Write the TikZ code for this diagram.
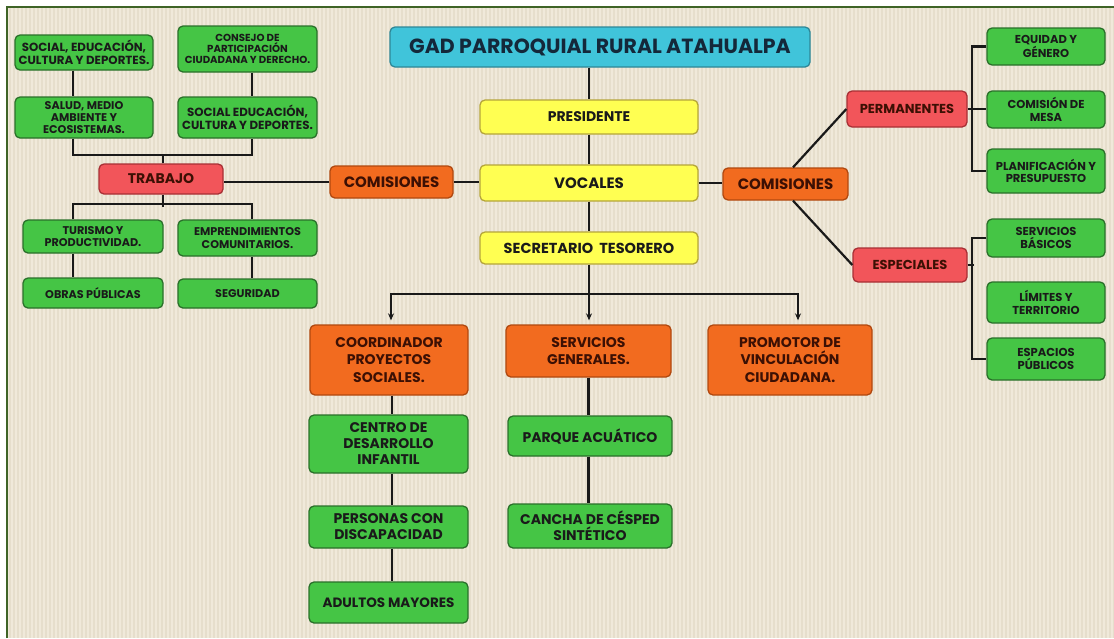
\documentclass[tikz,border=0pt]{standalone}
\usepackage{fontspec}
\setmainfont{Poppins}
\usetikzlibrary{arrows.meta,calc}
\definecolor{bg}{HTML}{F0E9DA}
\definecolor{stripe}{HTML}{DED4C0}
\definecolor{framec}{HTML}{3F6426}
\definecolor{cyanbox}{HTML}{40C4DA}
\definecolor{cyanline}{HTML}{2E8797}
\definecolor{yel}{HTML}{FFFF52}
\definecolor{yelline}{HTML}{B5A53A}
\definecolor{ora}{HTML}{F26B1F}
\definecolor{oraline}{HTML}{B0480F}
\definecolor{redb}{HTML}{F2555A}
\definecolor{redline}{HTML}{A83035}
\definecolor{grn}{HTML}{45C545}
\definecolor{grnline}{HTML}{2A702A}
\definecolor{txt}{HTML}{1A1A1A}
\definecolor{txtora}{HTML}{3C1004}
\definecolor{titletxt}{HTML}{14283A}
\newcommand\fsz[2]{\fontsize{#1}{#2}\selectfont}
\begin{document}
\begin{tikzpicture}[x=1pt,y=-1pt,
  box/.style={rounded corners=5pt, line width=1.3pt, align=center, inner sep=0pt, text=txt, font=\bfseries},
  gbox/.style={box, fill=grn, draw=grnline},
  ybox/.style={box, fill=yel, draw=yelline},
  obox/.style={box, fill=ora, draw=oraline, text=txtora},
  rbox/.style={box, fill=redb, draw=redline, text=txtora},
  cbox/.style={box, fill=cyanbox, draw=cyanline, text=titletxt},
  conn/.style={line width=2.2pt, draw=black!90},
  arr/.style={conn, -{Stealth[length=7pt,width=6pt]}, shorten >=4pt}]
\useasboundingbox (0,0) rectangle (1114,638);
% background
\fill[white] (0,0) rectangle (1114,638);
\fill[bg] (7,7) rectangle (1114,638);
\foreach \i in {9,13,...,1113} \fill[stripe, opacity=0.5] (\i,7) rectangle (\i+1.6,638);
\draw[framec, line width=2.2pt] (7,638) -- (7,7) -- (1114,7);

% centre column
\node[cbox, minimum width=420pt, minimum height=40pt, font=\bfseries\fsz{20.5}{24}] (title) at (600,47) {GAD PARROQUIAL RURAL ATAHUALPA};
\node[ybox, minimum width=218pt, minimum height=34pt, font=\bfseries\fsz{14}{16}] (pres) at (589,117) {PRESIDENTE};
\node[ybox, minimum width=218pt, minimum height=36pt, font=\bfseries\fsz{15}{17}] (voc) at (589,183) {VOCALES};
\node[ybox, minimum width=218pt, minimum height=32pt, font=\bfseries\fsz{14.5}{16}] (sec) at (589,248) {SECRETARIO\ \ TESORERO};
\node[obox, minimum width=123pt, minimum height=32pt, font=\bfseries\fsz{15}{17}] (comL) at (391.5,182) {COMISIONES};
\node[obox, minimum width=125pt, minimum height=32pt, font=\bfseries\fsz{15}{17}] (comR) at (785.5,184) {COMISIONES};

% left side
\node[rbox, minimum width=124pt, minimum height=30pt, font=\bfseries\fsz{14}{16}] (trab) at (161,179) {TRABAJO};
\node[gbox, minimum width=138pt, minimum height=35pt, font=\bfseries\fsz{11.8}{12.8}] (sc1) at (84,52.5) {SOCIAL, EDUCACIÓN,\\CULTURA Y DEPORTES.};
\node[gbox, minimum width=139pt, minimum height=46pt, font=\bfseries\fsz{10.2}{11}] (cons) at (247.5,49) {CONSEJO DE\\PARTICIPACIÓN\\CIUDADANA Y DERECHO.};
\node[gbox, minimum width=138pt, minimum height=41pt, font=\bfseries\fsz{11.2}{12.3}] (salud) at (84,117.5) {SALUD, MEDIO\\AMBIENTE Y\\ECOSISTEMAS.};
\node[gbox, minimum width=139pt, minimum height=41pt, font=\bfseries\fsz{11.8}{13}] (sc2) at (247.5,117.5) {SOCIAL EDUCACIÓN,\\CULTURA Y DEPORTES.};
\node[gbox, minimum width=140pt, minimum height=33pt, font=\bfseries\fsz{11.2}{12}] (tur) at (93,236.5) {TURISMO Y\\PRODUCTIVIDAD.};
\node[gbox, minimum width=139pt, minimum height=36pt, font=\bfseries\fsz{11.2}{12.5}] (emp) at (247.5,238) {EMPRENDIMIENTOS\\COMUNITARIOS.};
\node[gbox, minimum width=140pt, minimum height=30pt, font=\bfseries\fsz{11.2}{12}] (obras) at (93,293) {OBRAS PÚBLICAS};
\node[gbox, minimum width=139pt, minimum height=29pt, font=\bfseries\fsz{11.2}{12}] (seg) at (247.5,293.5) {SEGURIDAD};

% right side
\node[rbox, minimum width=120pt, minimum height=36pt, font=\bfseries\fsz{13}{15}] (perm) at (907,109) {PERMANENTES};
\node[rbox, minimum width=114pt, minimum height=34pt, font=\bfseries\fsz{13}{15}] (esp) at (910,265) {ESPECIALES};
\node[gbox, minimum width=118pt, minimum height=37pt, font=\bfseries\fsz{11.5}{12.5}] (equ) at (1046,46.5) {EQUIDAD Y\\GÉNERO};
\node[gbox, minimum width=118pt, minimum height=37pt, font=\bfseries\fsz{11.5}{12.5}] (mesa) at (1046,109.5) {COMISIÓN DE\\MESA};
\node[gbox, minimum width=118pt, minimum height=44pt, font=\bfseries\fsz{11.5}{12.5}] (plan) at (1046,171) {PLANIFICACIÓN Y\\PRESUPUESTO};
\node[gbox, minimum width=118pt, minimum height=38pt, font=\bfseries\fsz{11.5}{12.5}] (serv) at (1046,238) {SERVICIOS\\BÁSICOS};
\node[gbox, minimum width=118pt, minimum height=41pt, font=\bfseries\fsz{11.5}{12.5}] (lim) at (1046,302.5) {LÍMITES Y\\TERRITORIO};
\node[gbox, minimum width=118pt, minimum height=42pt, font=\bfseries\fsz{11.5}{12.5}] (espac) at (1046,359) {ESPACIOS\\PÚBLICOS};

% lower middle
\node[obox, minimum width=158pt, minimum height=70pt, font=\bfseries\fsz{14}{17.5}] (coord) at (389,360) {COORDINADOR\\PROYECTOS\\SOCIALES.};
\node[obox, minimum width=165pt, minimum height=52pt, font=\bfseries\fsz{14}{17.5}] (servg) at (588.5,351) {SERVICIOS\\GENERALES.};
\node[obox, minimum width=164pt, minimum height=70pt, font=\bfseries\fsz{14}{17.5}] (prom) at (790,360) {PROMOTOR DE\\VINCULACIÓN\\CIUDADANA.};
\node[gbox, minimum width=159pt, minimum height=58pt, font=\bfseries\fsz{14}{16}] (centro) at (388.5,444) {CENTRO DE\\DESARROLLO\\INFANTIL};
\node[gbox, minimum width=159pt, minimum height=42pt, font=\bfseries\fsz{14}{16}] (pers) at (388.5,527) {PERSONAS CON\\DISCAPACIDAD};
\node[gbox, minimum width=159pt, minimum height=41pt, font=\bfseries\fsz{13.5}{16}] (adul) at (388.5,602.5) {ADULTOS MAYORES};
\node[gbox, minimum width=164pt, minimum height=40pt, font=\bfseries\fsz{14}{16}] (parq) at (590,436) {PARQUE ACUÁTICO};
\node[gbox, minimum width=164pt, minimum height=44pt, font=\bfseries\fsz{14}{16}] (cancha) at (590,526) {CANCHA DE CÉSPED\\SINTÉTICO};

% centre connectors
\draw[conn] (pres.north |- title.south) -- (pres.north);
\draw[conn] (pres.south) -- (voc.north);
\draw[conn] (voc.south) -- (sec.north);
\draw[conn] (comL.east) -- (comL.east -| voc.west);
\draw[conn] (voc.east) -- (voc.east -| comR.west);
\draw[conn] (comL.west) -- (comL.west -| trab.east);
\draw[conn] (sec.south) -- ++(0,29) coordinate (br);
\draw[arr] (br) -| ([xshift=2pt]coord.north);
\draw[arr] (br) -- (br |- servg.north);
\draw[arr] (br) -| ([xshift=8pt]prom.north);
\draw[conn] ([xshift=3pt]coord.south) -- ([xshift=3.5pt]centro.north);
\draw[conn] ([xshift=3.5pt]centro.south) -- ([xshift=3.5pt]pers.north);
\draw[conn] ([xshift=3.5pt]pers.south) -- ([xshift=3.5pt]adul.north);
\draw[conn] (servg.south) -- (servg.south |- parq.north);
\draw[conn] (servg.south |- parq.south) -- (servg.south |- cancha.north);

% left connectors
\draw[conn] ([xshift=-11pt]sc1.south) -- ([xshift=-11pt]salud.north);
\draw[conn] ([xshift=4.5pt]cons.south) -- ([xshift=4.5pt]sc2.north);
\draw[conn] ([xshift=-11pt]salud.south) -- ++(0,16) -| ([xshift=4.5pt]sc2.south);
\draw[conn] ([xshift=2pt]trab.north) -- ++(0,-9);
\draw[conn] ([xshift=-20pt]tur.north) -- ++(0,-15) -| ([xshift=4.5pt]emp.north);
\draw[conn] ([xshift=2pt]trab.south) -- ++(0,12);
\draw[conn] ([xshift=-20pt]tur.south) -- ([xshift=-20pt]obras.north);
\draw[conn] ([xshift=4.5pt]emp.south) -- ([xshift=4.5pt]seg.north);

% right connectors
\draw[conn] ([xshift=7.5pt]comR.north) -- (perm.west);
\draw[conn] ([xshift=7.5pt]comR.south) -- (esp.west);
\draw[conn] (equ.west) -- ++(-14,0) |- (plan.west);
\draw[conn] (perm.east) -- (perm.east -| mesa.west);
\draw[conn] (serv.west) -- ++(-14,0) |- (espac.west);
\draw[conn] (esp.east) -- ++(6,0);
\end{tikzpicture}
\end{document}
